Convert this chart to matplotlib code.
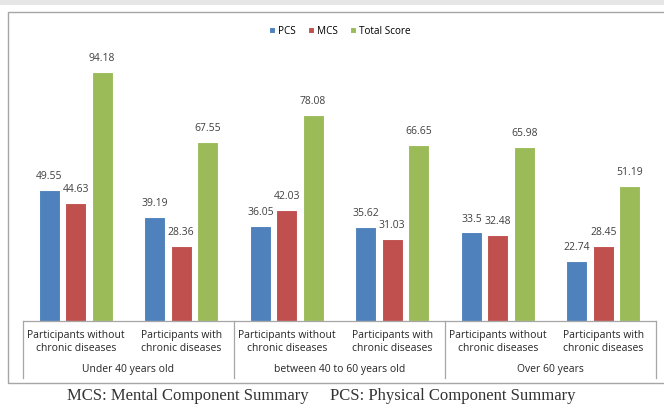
import matplotlib.pyplot as plt
import matplotlib.transforms as mtransforms
from matplotlib.patches import Rectangle
import numpy as np

plt.rcParams['font.family'] = ['Open Sans', 'DejaVu Sans']

categories = ['Participants without\nchronic diseases', 'Participants with\nchronic diseases'] * 3
groups = ['Under 40 years old', 'between 40 to 60 years old', 'Over 60 years']
series = ['PCS', 'MCS', 'Total Score']
pcs = [49.55, 39.19, 36.05, 35.62, 33.5, 22.74]
mcs = [44.63, 28.36, 42.03, 31.03, 32.48, 28.45]
total = [94.18, 67.55, 78.08, 66.65, 65.98, 51.19]
colors = ['#4F81BD', '#C0504D', '#9BBB59']

fig = plt.figure(figsize=(6.64, 4.04), dpi=100)

# grey band on top and outer frame
fig.patches.append(Rectangle((0, 1 - 5 / 404), 1, 5 / 404, transform=fig.transFigure,
                             facecolor='#e6e6e6', edgecolor='none'))
fig.patches.append(Rectangle((8 / 664, 1 - 383 / 404), 0.99, (383 - 12) / 404,
                             transform=fig.transFigure, facecolor='none',
                             edgecolor='#a6a6a6', linewidth=1))

ax = fig.add_axes([23 / 664, 0.2054, (656 - 23) / 664, 0.6545])
x = np.arange(len(categories))
for i, (vals, c) in enumerate(zip([pcs, mcs, total], colors)):
    bars = ax.bar(x + (i - 1) * 0.25, vals, width=0.2, color=c, edgecolor='white',
                  linewidth=0.8, label=series[i])
    for b, v in zip(bars, vals):
        ax.text(b.get_x() + b.get_width() / 2, v + 3, f'{v:g}', ha='center', va='bottom',
                fontsize=7.5, color='#404040')

ax.set_xlim(-0.5, 5.5)
ax.set_ylim(0, 100)
ax.axis('off')

trans = mtransforms.blended_transform_factory(ax.transData, ax.transAxes)
ax.plot([-0.5, 5.5], [0, 0], color='#a6a6a6', lw=0.9, transform=trans, clip_on=False)
for sx in [-0.5, 1.5, 3.5, 5.5]:
    ax.plot([sx, sx], [0, -0.216], color='#a6a6a6', lw=0.9, transform=trans, clip_on=False)
for xi, lab in zip(x, categories):
    ax.text(xi, -0.08, lab, ha='center', va='center', fontsize=7.5, color='#262626',
            linespacing=1.3, transform=trans)
for gi, g in enumerate(groups):
    ax.text(2 * gi + 0.5, -0.185, g, ha='center', va='center', fontsize=7.5,
            color='#262626', transform=trans)

fig.legend(loc='center', bbox_to_anchor=(340 / 664, 1 - 31 / 404), ncol=3, frameon=False,
           fontsize=7.2, handlelength=0.6, handleheight=0.6, handletextpad=0.3,
           columnspacing=1.2)

fig.text(67 / 664, 1 - 396 / 404, 'MCS: Mental Component Summary', family='Liberation Serif',
         fontsize=12, color='#333333', va='center', ha='left')
fig.text(330 / 664, 1 - 396 / 404, 'PCS: Physical Component Summary', family='Liberation Serif',
         fontsize=12, color='#333333', va='center', ha='left')

fig.savefig('out.png', dpi=100)
